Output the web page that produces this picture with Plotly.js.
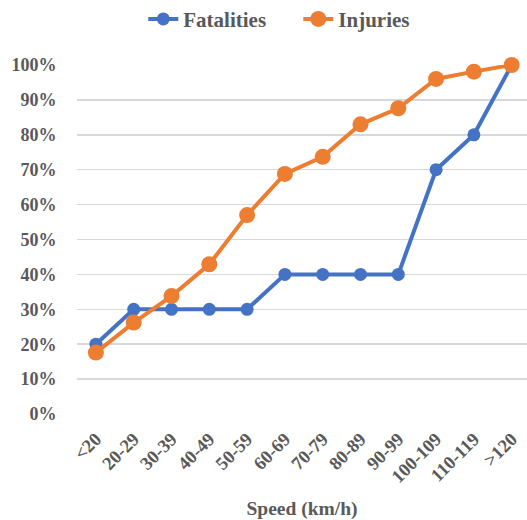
<!DOCTYPE html>
<html>
<head>
<meta charset="utf-8">
<script src="https://cdn.plot.ly/plotly-3.0.1.min.js"></script>
<style>html,body{margin:0;padding:0;background:#fff;}#chart{width:527px;height:520px;}</style>
</head>
<body>
<div id="chart"></div>
<script>
var categories = ['<20','20-29','30-39','40-49','50-59','60-69','70-79','80-89','90-99','100-109','110-119','>120'];
var fatalities = [0.20,0.30,0.30,0.30,0.30,0.40,0.40,0.40,0.40,0.70,0.80,1.00];
var injuries = [0.176,0.262,0.338,0.429,0.570,0.688,0.737,0.830,0.876,0.960,0.981,1.00];
var yTickVals = [0,0.1,0.2,0.3,0.4,0.5,0.6,0.7,0.8,0.9,1.0];
var yTickText = ['0%','10%','20%','30%','40%','50%','60%','70%','80%','90%','100%'];

var fam = '"Liberation Serif","Times New Roman",serif';
var grey = '#595959';

var traces = [
  {x:categories, y:fatalities, name:'Fatalities', type:'scatter', mode:'lines+markers',
   line:{color:'#4472C4', width:4}, marker:{color:'#4472C4', size:13}, cliponaxis:false},
  {x:categories, y:injuries, name:'Injuries', type:'scatter', mode:'lines+markers',
   line:{color:'#ED7D31', width:4}, marker:{color:'#ED7D31', size:16}, cliponaxis:false}
];

var layout = {
  width:527, height:520,
  margin:{l:77, r:0, t:65, b:106},
  paper_bgcolor:'#fff', plot_bgcolor:'#fff',
  font:{family:fam, color:grey, size:18, weight:'bold'},
  showlegend:true,
  legend:{orientation:'h', xref:'container', yref:'container', x:0.566, xanchor:'center', y:0.963, yanchor:'middle',
          entrywidth:110, entrywidthmode:'pixels',
          font:{family:fam, color:grey, size:21, weight:'bold'}},
  xaxis:{type:'category', range:[-0.5, 11.405], tickangle:-45, showgrid:false, zeroline:false, showline:false,
         ticks:'outside', ticklen:6, tickcolor:'rgba(0,0,0,0)',
         tickfont:{family:fam, color:grey, size:18.5, weight:'bold'},
         title:{text:'Speed (km/h)', standoff:20, font:{family:fam, color:grey, size:19.5, weight:'bold'}}},
  yaxis:{range:[0,1], tickvals:yTickVals, ticktext:yTickText,
         showgrid:true, gridcolor:'#d9d9d9', gridwidth:1.5, zeroline:false, showline:false,
         ticks:'outside', ticklen:16, tickcolor:'rgba(0,0,0,0)',
         tickfont:{family:fam, color:grey, size:18, weight:'bold'}}
};

Plotly.newPlot('chart', traces, layout, {displayModeBar:false, staticPlot:true});
</script>
</body>
</html>
